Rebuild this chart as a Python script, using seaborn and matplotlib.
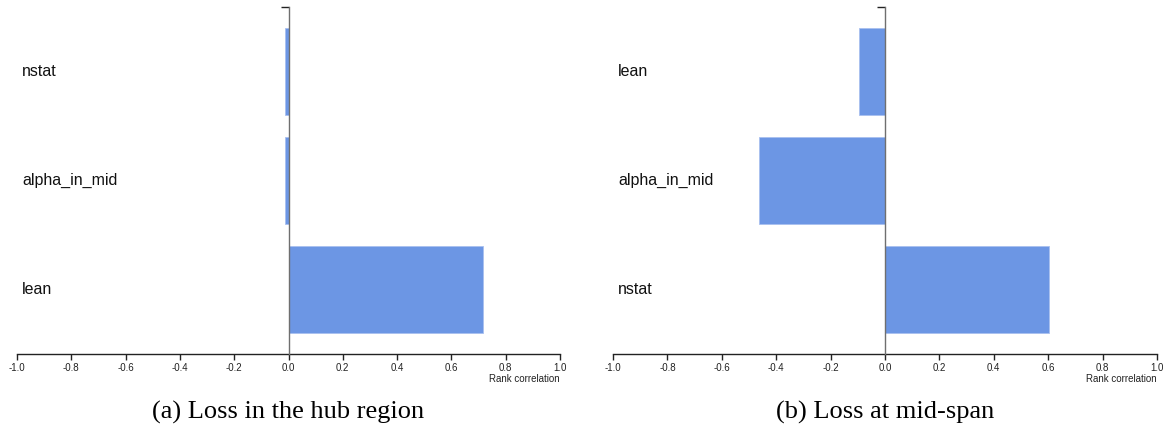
import matplotlib
matplotlib.use("Agg")
import matplotlib.pyplot as plt
import matplotlib.transforms as mtransforms
import seaborn as sns
import pandas as pd

# ---- data ----
hub_params = ["nstat", "alpha_in_mid", "lean"]
hub_corr = [-0.012, -0.014, 0.717]
mid_params = ["lean", "alpha_in_mid", "nstat"]
mid_corr = [-0.094, -0.463, 0.602]
x_ticks = [-1.0, -0.8, -0.6, -0.4, -0.2, 0.0, 0.2, 0.4, 0.6, 0.8, 1.0]
x_label = "Rank correlation"
captions = ["(a) Loss in the hub region", "(b) Loss at mid-span"]

BAR = "#6c96e4"
W, H = 1163, 430

sns.set_theme(style="white")
plt.rcParams["font.family"] = ["Liberation Sans", "DejaVu Sans"]

fig = plt.figure(figsize=(W / 100, H / 100), dpi=100)

panels = [
    (hub_params, hub_corr, 17, 560),
    (mid_params, mid_corr, 613, 1157),
]
top_px, bot_px = 7, 354
YTOP, YBOT = -0.594, 2.594

for i, (params, vals, x0, x1) in enumerate(panels):
    ax = fig.add_axes([x0 / W, (H - bot_px) / H, (x1 - x0) / W, (bot_px - top_px) / H])
    df = pd.DataFrame({"param": params, "corr": vals})
    sns.barplot(data=df, x="corr", y="param", order=params, orient="h",
                color=BAR, saturation=1, width=0.8, edgecolor="#a9c0ef",
                linewidth=0.6, ax=ax)
    ax.set_xlim(-1.0, 1.0)
    ax.set_ylim(YBOT, YTOP)
    ax.set_xlabel("")
    ax.set_ylabel("")
    for s in ["top", "right"]:
        ax.spines[s].set_visible(False)
    ax.spines["left"].set_position(("data", 0))
    ax.spines["left"].set_color("#6f6f6f")
    ax.spines["left"].set_linewidth(1.0)
    ax.spines["left"].set_zorder(5)
    ax.spines["bottom"].set_color("#222222")
    ax.spines["bottom"].set_linewidth(1.0)
    ax.set_xticks(x_ticks)
    ax.set_xticklabels([f"{t:.1f}" for t in x_ticks])
    ax.tick_params(axis="x", bottom=True, length=4, width=1.0, color="#222222",
                   pad=2.5, labelsize=7, labelcolor="#222222")
    ax.set_yticks([YTOP])
    ax.set_yticklabels([""])
    ax.tick_params(axis="y", left=True, length=6, width=1.0, color="#222222")
    # category labels on the left
    tr = mtransforms.offset_copy(ax.get_yaxis_transform(), fig=fig, x=5, y=0, units="dots")
    for j, p in enumerate(params):
        ax.text(0.0, j, p, transform=tr, ha="left", va="center",
                fontsize=11.5, color="#111111")
    ax.text(1.0, -0.073, x_label, transform=ax.transAxes, ha="right", va="center",
            fontsize=7, color="#222222")
    fig.text((x0 + x1) / 2 / W, (H - 412) / H, captions[i], ha="center", va="center",
             fontsize=19, family=["Liberation Serif", "DejaVu Serif"], color="black")

fig.savefig("out.png", dpi=100)
